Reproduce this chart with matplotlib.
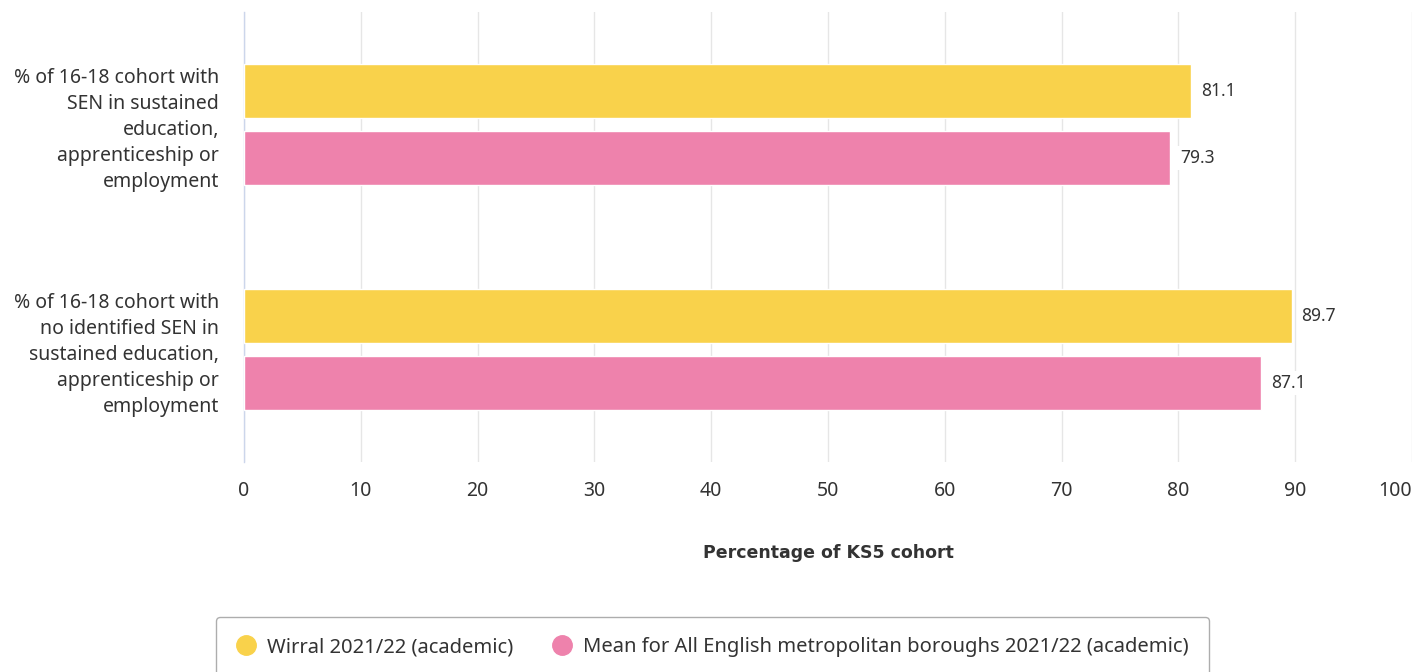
import matplotlib
matplotlib.use("Agg")
import matplotlib.pyplot as plt
import numpy as np
from matplotlib.lines import Line2D

plt.rcParams['font.family'] = ['Noto Sans', 'DejaVu Sans']

categories = [
    "% of 16-18 cohort with\nSEN in sustained\neducation,\napprenticeship or\nemployment",
    "% of 16-18 cohort with\nno identified SEN in\nsustained education,\napprenticeship or\nemployment",
]
series_names = ["Wirral 2021/22 (academic)",
                "Mean for All English metropolitan boroughs 2021/22 (academic)"]
wirral = [81.1, 89.7]
mean_met = [79.3, 87.1]
xticks = [0, 10, 20, 30, 40, 50, 60, 70, 80, 90, 100]
x_title = "Percentage of KS5 cohort"

colors = ["#F9D24B", "#EE82AC"]

W, H = 1413, 672
fig = plt.figure(figsize=(W / 100, H / 100), dpi=100)
ax = fig.add_axes([244 / W, 1 - 462 / H, (1412 - 244) / W, 450 / H])

y = np.arange(len(categories))
bh = 0.236
off = 0.149
for vals, c, o, name in [(wirral, colors[0], -off, series_names[0]),
                         (mean_met, colors[1], off, series_names[1])]:
    bars = ax.barh(y + o, vals, height=bh, color=c, edgecolor="white", linewidth=1, zorder=3, label=name)
    for b, v in zip(bars, vals):
        ax.annotate(f"{v:.1f}", xy=(v, b.get_y() + b.get_height() / 2), xytext=(7, 0),
                    textcoords="offset points", va="center", ha="left", fontsize=12.5, color="#333333",
                    bbox=dict(boxstyle="square,pad=0.15", fc="white", ec="none"), zorder=4)

ax.set_xlim(0, 100)
ax.set_ylim(1.5, -0.5)
ax.set_xticks(xticks)
ax.set_xticklabels([str(t) for t in xticks], fontsize=14, color="#333333")
ax.get_xticklabels()[-1].set_horizontalalignment("right")
ax.set_yticks(y)
ax.set_yticklabels(categories, fontsize=14, color="#333333", linespacing=1.4)
ax.tick_params(axis="both", length=0)
ax.tick_params(axis="x", pad=14)
ax.tick_params(axis="y", pad=18)
ax.grid(axis="x", color="#e6e6e6", linewidth=1, zorder=0)
ax.set_axisbelow(True)
for s in ["top", "right", "bottom"]:
    ax.spines[s].set_visible(False)
ax.spines["left"].set_color("#ccd6eb")
ax.spines["left"].set_linewidth(1)

ax.set_xlabel(x_title, fontsize=12.5, fontweight="bold", color="#333333", labelpad=31,
              family=["DejaVu Sans"])

handles = [Line2D([0], [0], marker="o", color="none", markerfacecolor=colors[i], markeredgecolor=colors[i],
                  markersize=14, label=series_names[i]) for i in range(2)]
leg = fig.legend(handles=handles, loc="upper center", bbox_to_anchor=(712.5 / W, 1 - 617 / H),
                 ncol=2, frameon=True, fontsize=14.5, handletextpad=0.55, columnspacing=1.9,
                 borderpad=1.0, handlelength=1.0, fancybox=True, labelcolor="#333333",
                 borderaxespad=0)
leg.get_frame().set_edgecolor("#999999")
leg.get_frame().set_linewidth(1)

fig.savefig("out.png", dpi=100)
